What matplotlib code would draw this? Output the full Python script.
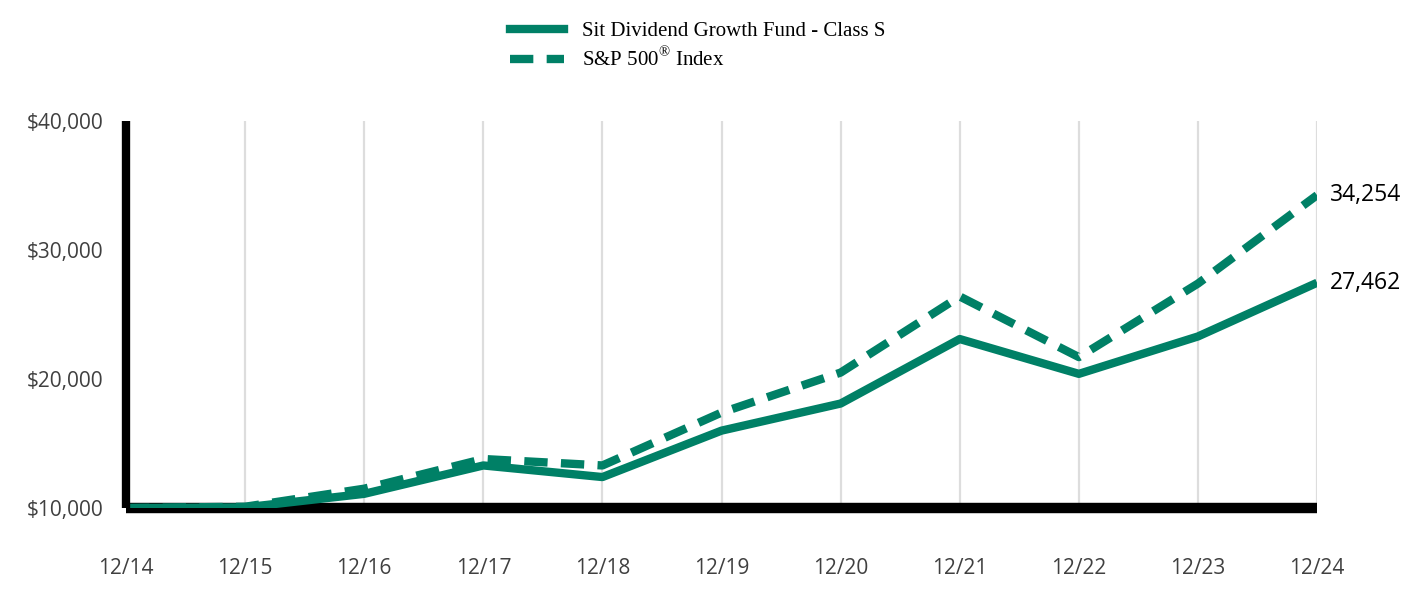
import matplotlib.pyplot as plt
from matplotlib.lines import Line2D

# Growth of $10,000
years = ['12/14', '12/15', '12/16', '12/17', '12/18', '12/19',
         '12/20', '12/21', '12/22', '12/23', '12/24']
fund = [10000, 10050, 11100, 13300, 12400, 16000,
        18100, 23100, 20400, 23300, 27462]
index = [10000, 10100, 11500, 13800, 13300, 17400,
         20500, 26400, 21700, 27400, 34254]
yticks = [10000, 20000, 30000, 40000]

green = '#008066'
tick_font = ['Open Sans', 'DejaVu Sans']
dash = (2.8, 1.6)

fig = plt.figure(figsize=(14.24, 5.93), dpi=100)
ax = fig.add_axes([0.0885, 0.1433, 0.8364, 0.6526])

x = list(range(len(years)))
ax.plot(x, fund, color=green, lw=6, solid_capstyle='butt', zorder=3)
ax.plot(x, index, color=green, lw=6, dashes=dash,
        dash_capstyle='butt', zorder=3)

ax.set_xlim(0, len(years) - 1)
ax.set_ylim(10000, 40000)
ax.set_xticks(x)
ax.set_xticklabels(years)
ax.set_yticks(yticks)
ax.set_yticklabels([f'${v:,}' for v in yticks])
ax.tick_params(length=0)
ax.tick_params(axis='x', pad=36)
ax.tick_params(axis='y', pad=16)
for lab in ax.get_xticklabels() + ax.get_yticklabels():
    lab.set_family(tick_font)
    lab.set_fontsize(15)
    lab.set_color('#404040')

ax.grid(axis='x', color='#dddddd', lw=1.6, zorder=0)
ax.grid(axis='y', visible=False)
for side in ['top', 'right']:
    ax.spines[side].set_visible(False)
ax.spines['left'].set_linewidth(6)
ax.spines['bottom'].set_linewidth(7.5)
for side in ['left', 'bottom']:
    ax.spines[side].set_color('black')
    ax.spines[side].set_capstyle('butt')
ax.spines['left'].set_zorder(4)
ax.spines['bottom'].set_zorder(2)

# end labels
for vals in (fund, index):
    ax.annotate(f'{vals[-1]:,}', (x[-1], vals[-1]), xytext=(9, 0),
                textcoords='offset points', va='center', ha='left',
                fontsize=16.5, family=tick_font, color='black',
                annotation_clip=False)

handles = [Line2D([], [], color=green, lw=6),
           Line2D([], [], color=green, lw=6, dashes=dash,
                  dash_capstyle='butt')]
fig.legend(handles, ['Sit Dividend Growth Fund - Class S',
                     'S&P 500$^{\\mathregular{®}}$ Index'],
           loc='upper left', bbox_to_anchor=(0.345, 0.995), frameon=False,
           prop={'family': ['Liberation Serif', 'DejaVu Serif'], 'size': 15},
           handlelength=2.6, handletextpad=0.85, labelspacing=0.3)

fig.savefig('out.png', dpi=100)
